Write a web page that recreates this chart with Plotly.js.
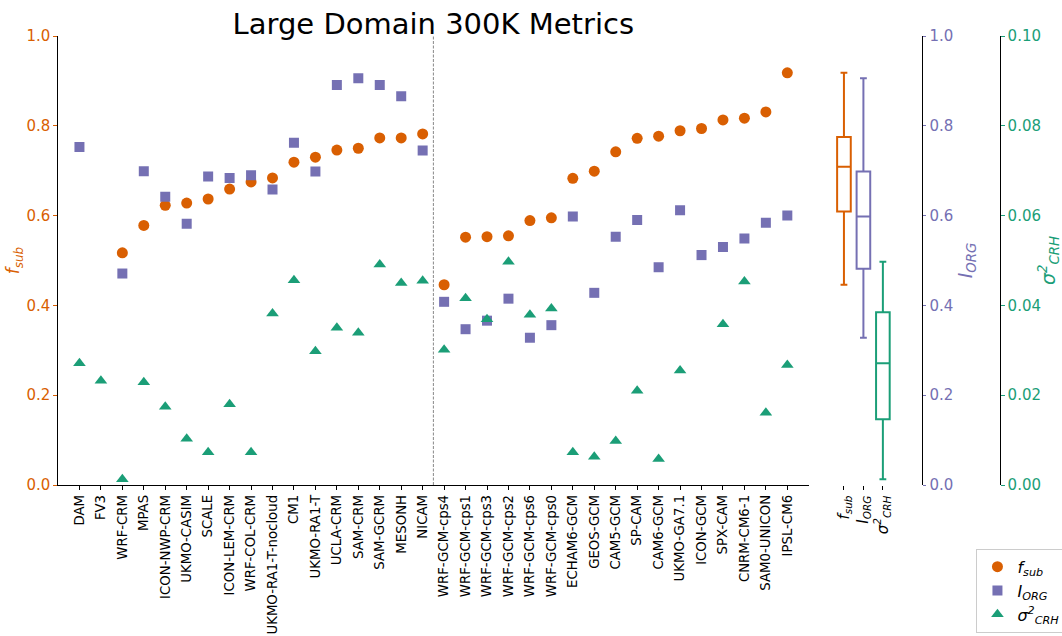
<!DOCTYPE html>
<html><head><meta charset="utf-8">
<script src="https://cdn.plot.ly/plotly-3.0.1.min.js"></script>
<style>body{margin:0;padding:0;background:#fff}#chart{width:1062px;height:636px}</style>
</head><body><div id="chart"></div>
<script>
const models = ["DAM","FV3","WRF-CRM","MPAS","ICON-NWP-CRM","UKMO-CASIM","SCALE","ICON-LEM-CRM","WRF-COL-CRM","UKMO-RA1-T-nocloud","CM1","UKMO-RA1-T","UCLA-CRM","SAM-CRM","SAM-GCRM","MESONH","NICAM",
"WRF-GCM-cps4","WRF-GCM-cps1","WRF-GCM-cps3","WRF-GCM-cps2","WRF-GCM-cps6","WRF-GCM-cps0","ECHAM6-GCM","GEOS-GCM","CAM5-GCM","SP-CAM","CAM6-GCM","UKMO-GA7.1","ICON-GCM","SPX-CAM","CNRM-CM6-1","SAM0-UNICON","IPSL-CM6"];
const nCRM = 17;
const fsub = [null,null,0.517,0.578,0.623,0.628,0.637,0.659,0.675,0.684,0.719,0.730,0.746,0.750,0.773,0.773,0.782,
0.446,0.552,0.553,0.555,0.589,0.595,0.683,0.699,0.742,0.772,0.777,0.789,0.794,0.813,0.817,0.831,0.918];
const iorg = [0.753,null,0.471,0.699,0.642,0.582,0.687,0.684,0.690,0.658,0.762,0.698,0.891,0.906,0.891,0.866,0.745,
0.408,0.347,0.366,0.415,0.328,0.356,0.598,0.428,0.553,0.590,0.485,0.612,0.512,0.530,0.549,0.584,0.600];
const scrh = [0.0271,0.0232,0.0013,0.0229,0.0174,0.0103,0.0073,0.0180,0.0073,0.0382,0.0456,0.0298,0.0350,0.0339,0.0491,0.0450,0.0455,
0.0301,0.0416,0.0369,0.0497,0.0379,0.0393,0.0073,0.0063,0.0098,0.0210,0.0058,0.0255,null,0.0358,0.0453,0.0161,0.0267];
const boxLabels = ["<i>f<sub>sub</sub></i>","<i>I<sub>ORG</sub></i>","<i>σ<sup>2</sup><sub>CRH</sub></i>"];
const colF = "#d95f02", colI = "#7570b3", colS = "#1b9e77";
const font = "DejaVu Sans, sans-serif";
const clean = a => a.filter(v => v !== null);

const traces = [
 {type:"scatter",mode:"markers",x:models,y:fsub,name:boxLabels[0],xaxis:"x",yaxis:"y",
  marker:{symbol:"circle",size:11,color:colF}},
 {type:"scatter",mode:"markers",x:models,y:iorg,name:boxLabels[1],xaxis:"x",yaxis:"y2",
  marker:{symbol:"square",size:10,color:colI}},
 {type:"scatter",mode:"markers",x:models,y:scrh,name:boxLabels[2],xaxis:"x",yaxis:"y3",
  marker:{symbol:"triangle-up",size:11,color:colS}},
 {type:"box",y:clean(fsub),x0:0,xaxis:"x2",yaxis:"y",width:0.7,whiskerwidth:0.5,boxpoints:false,showlegend:false,
  line:{color:colF,width:2},fillcolor:"rgba(0,0,0,0)"},
 {type:"box",y:clean(iorg),x0:1,xaxis:"x2",yaxis:"y2",width:0.7,whiskerwidth:0.5,boxpoints:false,showlegend:false,
  line:{color:colI,width:2},fillcolor:"rgba(0,0,0,0)"},
 {type:"box",y:clean(scrh),x0:2,xaxis:"x2",yaxis:"y3",width:0.7,whiskerwidth:0.5,boxpoints:false,showlegend:false,
  line:{color:colS,width:2},fillcolor:"rgba(0,0,0,0)"}
];

const layout = {
 width:1062,height:636,
 margin:{l:58,r:62,t:36,b:151,autoexpand:false},
 paper_bgcolor:"#fff",plot_bgcolor:"rgba(0,0,0,0)",
 font:{family:font,size:13,color:"#000"},
 title:{text:"Large Domain 300K Metrics",font:{family:font,size:29,color:"#000"},
  xref:"container",x:0.408,xanchor:"center",yref:"container",y:0.963,yanchor:"middle"},
 showlegend:true,
 legend:{x:0.975,xanchor:"left",y:-0.142,yanchor:"top",bgcolor:"#fff",bordercolor:"#ccc",borderwidth:1,
  font:{family:font,size:16},itemwidth:30},
 xaxis:{domain:[0,0.797],type:"category",range:[-1,34],showgrid:false,zeroline:false,
  showline:true,linecolor:"#000",linewidth:1.2,ticks:"outside",ticklen:3.5,tickcolor:"#000",
  tickangle:-90,tickfont:{family:font,size:13.3,color:"#000"}},
 xaxis2:{domain:[0.824,0.886],anchor:"y",range:[-0.5,2.5],showgrid:false,zeroline:false,showline:false,
  tickmode:"array",tickvals:[0,1,2],ticktext:boxLabels,ticks:"outside",ticklen:3.5,tickcolor:"#000",
  tickangle:-90,tickfont:{family:font,size:15,color:"#000"}},
 yaxis:{range:[0,1],tickvals:[0,0.2,0.4,0.6,0.8,1.0],tickformat:".1f",showgrid:false,zeroline:false,
  showline:true,linecolor:"#000",linewidth:1.2,ticks:"outside",ticklen:3.5,tickcolor:colF,
  tickfont:{family:font,size:15,color:colF},
  title:{text:"<i>f<sub>sub</sub></i>",font:{family:font,size:17,color:colF},standoff:2}},
 yaxis2:{range:[0,1],overlaying:"y",anchor:"free",position:0.917,side:"right",tickvals:[0,0.2,0.4,0.6,0.8,1.0],
  tickformat:".1f",showgrid:false,zeroline:false,showline:true,linecolor:"#000",linewidth:1.2,
  ticks:"outside",ticklen:3.5,tickcolor:colI,tickfont:{family:font,size:15,color:colI},
  title:{text:"<i>I<sub>ORG</sub></i>",font:{family:font,size:19,color:colI},standoff:6}},
 yaxis3:{range:[0,0.1],overlaying:"y",anchor:"free",position:1.0,side:"right",tickvals:[0,0.02,0.04,0.06,0.08,0.1],
  tickformat:".2f",showgrid:false,zeroline:false,showline:true,linecolor:"#000",linewidth:1.2,
  ticks:"outside",ticklen:3.5,tickcolor:colS,tickfont:{family:font,size:15,color:colS},
  title:{text:"<i>σ<sup>2</sup><sub>CRH</sub></i>",font:{family:font,size:19,color:colS},standoff:6}},
 shapes:[{type:"line",xref:"x",yref:"paper",x0:nCRM-0.5,x1:nCRM-0.5,y0:0,y1:1,
  line:{color:"#888",width:1,dash:"3px,1.5px"}}]
};
Plotly.newPlot("chart",traces,layout,{displayModeBar:false,responsive:false});
</script></body></html>
